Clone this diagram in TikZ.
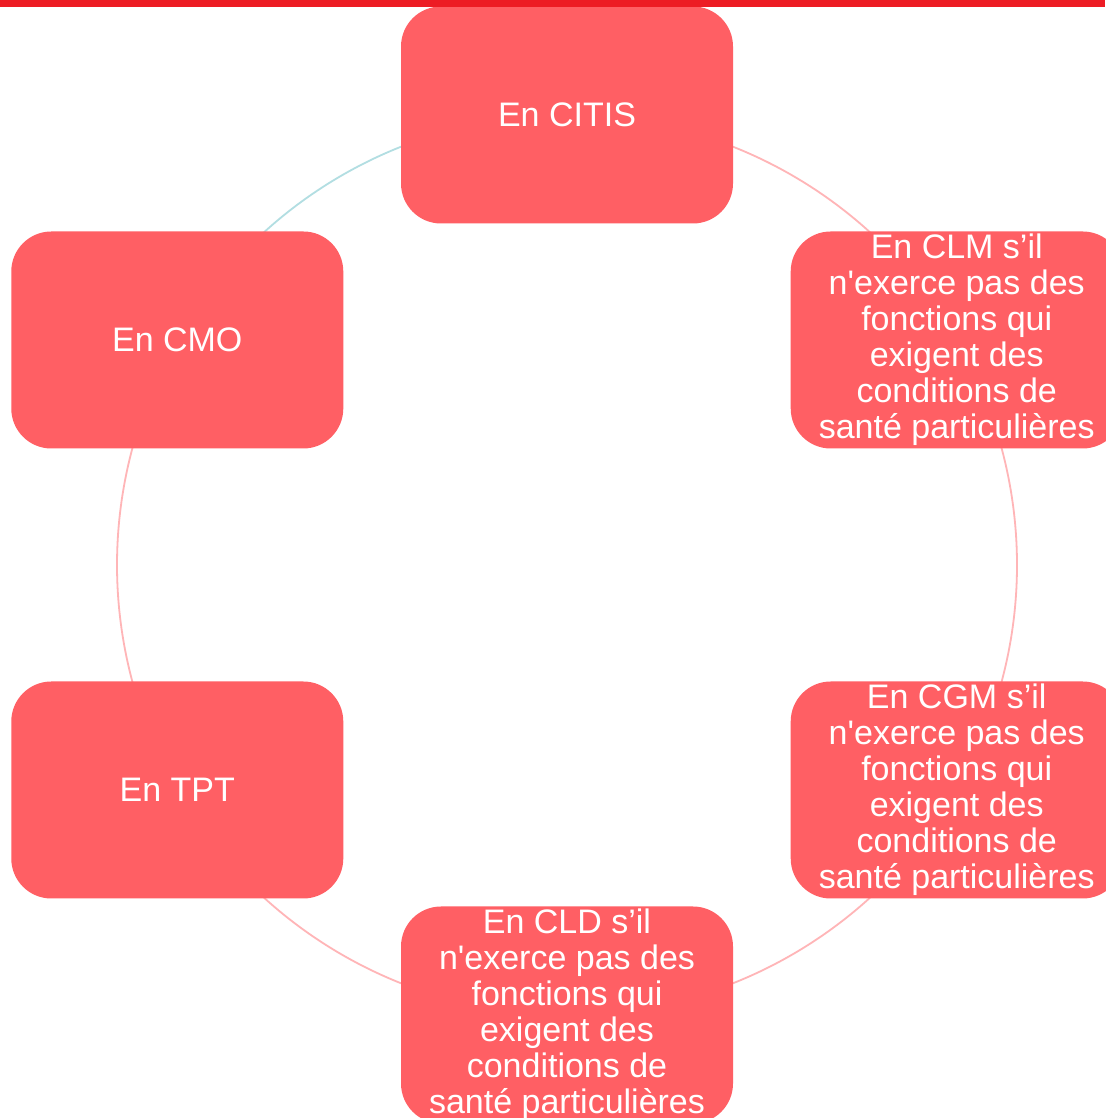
\documentclass[tikz,border=0pt]{standalone}
\usepackage{fontspec}
\setmainfont{Liberation Sans}[Ligatures=TeXOff]
\definecolor{boxred}{HTML}{FF5F64}
\definecolor{barred}{HTML}{ED1C24}
\definecolor{arcpink}{HTML}{FFB5B7}
\definecolor{arcblue}{HTML}{B2DEE2}
\begin{document}
\begin{tikzpicture}[x=1pt,y=1pt,
  box/.style={fill=boxred, rounded corners=40pt, minimum width=332pt, minimum height=217pt,
    inner sep=0pt, align=center, text=white, font=\fontsize{34}{36}\selectfont},
  pinkarc/.style={draw=arcpink, line width=1.8pt},
  bluearc/.style={draw=arcblue, line width=1.8pt}]
\useasboundingbox (0,0) rectangle (1105,1118);
\fill[white] (0,0) rectangle (1105,1118);
\coordinate (c) at (567,553);
\def\R{450}
\path (c) ++(90:\R) coordinate (pcitis);
\path (c) ++(150:\R) coordinate (pcmo);
\path (c) ++(210:\R) coordinate (ptpt);
\path (c) ++(270:\R) coordinate (pcld);
\path (c) ++(330:\R) coordinate (pcgm);
\path (c) ++(30:\R) coordinate (pclm);
% arcs
\draw[bluearc] (pcitis) arc[start angle=90, end angle=150, radius=\R];
\draw[pinkarc] (pcmo) arc[start angle=150, end angle=210, radius=\R];
\draw[pinkarc] (ptpt) arc[start angle=210, end angle=270, radius=\R];
\draw[pinkarc] (pcld) arc[start angle=270, end angle=330, radius=\R];
\draw[pinkarc] (pcgm) arc[start angle=330, end angle=390, radius=\R];
\draw[pinkarc] (pclm) arc[start angle=30, end angle=90, radius=\R];
% boxes
\node[box] (citis) at (pcitis) {En CITIS};
\node[box] (cmo) at (pcmo) {En CMO};
\node[box] (tpt) at (ptpt) {En TPT};
\node[box] (cld) at (pcld) {En CLD s’il\\n'exerce pas des\\fonctions qui\\exigent des\\conditions de\\santé particulières};
\node[box] (cgm) at (pcgm) {En CGM s’il\\n'exerce pas des\\fonctions qui\\exigent des\\conditions de\\santé particulières};
\node[box] (clm) at (pclm) {En CLM s’il\\n'exerce pas des\\fonctions qui\\exigent des\\conditions de\\santé particulières};
% top bar
\fill[barred] (0,1111) rectangle (1105,1118);
\end{tikzpicture}
\end{document}
